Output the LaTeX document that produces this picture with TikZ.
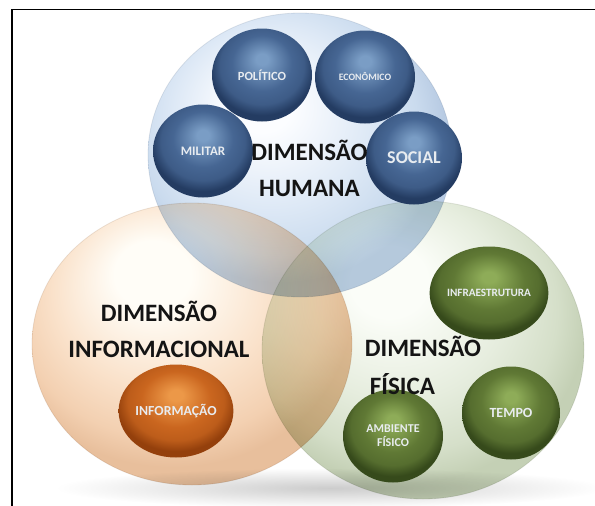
\documentclass[tikz,border=0pt]{standalone}
\usepackage{fontspec}
\setmainfont{Carlito}
\usetikzlibrary{shapes.geometric}

% big circle colours
\definecolor{bA}{RGB}{252,253,255}
\definecolor{bB}{RGB}{222,233,246}
\definecolor{bC}{RGB}{202,219,238}
\definecolor{bD}{RGB}{184,203,227}
\definecolor{oA}{RGB}{255,253,247}
\definecolor{oB}{RGB}{250,226,203}
\definecolor{oC}{RGB}{243,208,177}
\definecolor{oD}{RGB}{232,191,156}
\definecolor{gA}{RGB}{251,253,248}
\definecolor{gB}{RGB}{230,237,222}
\definecolor{gC}{RGB}{213,223,201}
\definecolor{gD}{RGB}{196,208,181}
% small sphere colours
\definecolor{nv1}{RGB}{122,157,197}
\definecolor{nv2}{RGB}{70,102,147}
\definecolor{nv3}{RGB}{36,60,98}
\definecolor{gr1}{RGB}{142,172,88}
\definecolor{gr2}{RGB}{96,121,53}
\definecolor{gr3}{RGB}{54,74,27}
\definecolor{or1}{RGB}{236,152,72}
\definecolor{or2}{RGB}{202,102,31}
\definecolor{or3}{RGB}{148,64,12}
\definecolor{lbl}{RGB}{232,236,240}

\pgfdeclareradialshading{bigblue}{\pgfqpoint{-7bp}{10bp}}{color(0bp)=(bA); color(5bp)=(bA); color(16bp)=(bB); color(23bp)=(bC); color(27bp)=(bD); color(50bp)=(bD)}
\pgfdeclareradialshading{bigorange}{\pgfqpoint{-7bp}{14bp}}{color(0bp)=(oA); color(6bp)=(oA); color(17bp)=(oB); color(24bp)=(oC); color(28bp)=(oD); color(50bp)=(oD)}
\pgfdeclareradialshading{biggreen}{\pgfqpoint{-6bp}{13bp}}{color(0bp)=(gA); color(6bp)=(gA); color(17bp)=(gB); color(24bp)=(gC); color(28bp)=(gD); color(50bp)=(gD)}
\pgfdeclareradialshading{navyball}{\pgfqpoint{0bp}{9bp}}{color(0bp)=(nv1); color(3bp)=(nv1); color(15bp)=(nv2); color(21bp)=(nv2!75!nv3); color(26bp)=(nv3); color(50bp)=(nv3)}
\pgfdeclareradialshading{greenball}{\pgfqpoint{0bp}{9bp}}{color(0bp)=(gr1); color(3bp)=(gr1); color(15bp)=(gr2); color(21bp)=(gr2!75!gr3); color(26bp)=(gr3); color(50bp)=(gr3)}
\pgfdeclareradialshading{orangeball}{\pgfqpoint{0bp}{9bp}}{color(0bp)=(or1); color(3bp)=(or1); color(15bp)=(or2); color(21bp)=(or2!75!or3); color(26bp)=(or3); color(50bp)=(or3)}

\tikzset{
  bigc/.style={ellipse, inner sep=0pt, shade, draw opacity=0.2, line width=0.8pt},
  sph/.style={ellipse, minimum width=100pt, minimum height=93pt, inner sep=0pt, shade,
    text=lbl, align=center},
  navy/.style={sph, shading=navyball},
  grn/.style={sph, shading=greenball},
  org/.style={sph, shading=orangeball},
  lab/.style={font=\fontsize{25}{36}\selectfont\bfseries, text=black!92, inner sep=0pt},
  fsz/.style={font=\fontsize{#1}{#1}\selectfont\bfseries},
  frame/.style={line width=1.3pt, black}
}

\begin{document}
\begin{tikzpicture}[x=1pt, y=-1pt]
\useasboundingbox (0,0) rectangle (595,506);

% frame
\coordinate (fr1) at (595,9.5);
\coordinate (fr2) at (12,9.5);
\coordinate (fr3) at (12,506);
\draw[frame] (fr1) -- (fr2) -- (fr3);

% shadow
\shade[inner color=black!20, outer color=white] (330,488) ellipse [x radius=275pt, y radius=20pt];

% big circles
\begin{scope}[blend mode=multiply]
\node[bigc, shading=bigblue, draw=bD!70!black, minimum width=304pt, minimum height=284pt] (hum) at (300,155) {};
\node[bigc, shading=bigorange, draw=oD!70!black, minimum width=320pt, minimum height=282pt] (inf) at (192,344) {};
\node[bigc, shading=biggreen, draw=gD!70!black, minimum width=322pt, minimum height=298pt] (fis) at (423,350) {};
\end{scope}

% small spheres
\node[navy, fsz=12.5] (pol) at (262,75) {POLÍTICO};
\node[navy, fsz=9.8] (eco) at (365,77) {ECONÔMICO};
\node[navy, fsz=13] (mil) at (203,151) {MILITAR};
\node[navy, fsz=18, minimum width=96pt] (soc) at (414,158) {SOCIAL};
\node[org, fsz=13.8, minimum width=102pt] (infm) at (176,411) {INFORMAÇÃO};
\node[grn, fsz=11.2, minimum width=98pt] (infr) at (489,293) {INFRAESTRUTURA};
\node[grn, fsz=14, minimum width=98pt] (tem) at (511,413) {TEMPO};
\node[grn, font=\fontsize{12}{14}\selectfont\bfseries] (amb) at (393,436) {AMBIENTE\\FÍSICO};

% dimension labels
\node[lab, align=center] (lhum) at (309.5,168.5) {DIMENSÃO\\HUMANA};
\node[lab, align=center] (linf) at (159,329) {DIMENSÃO\\INFORMACIONAL};
\node[lab, align=left, font=\fontsize{25}{38}\selectfont\bfseries] (lfis) at (423,365) {DIMENSÃO\\\hspace{5pt}FÍSICA};
\end{tikzpicture}
\end{document}
